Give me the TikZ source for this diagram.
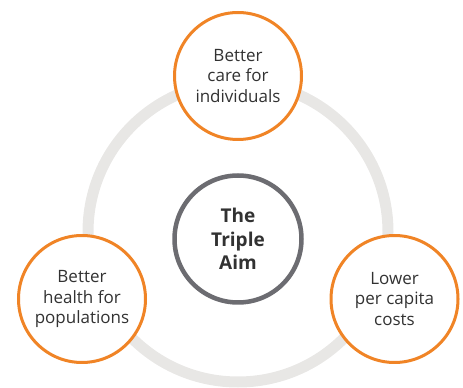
\documentclass[tikz,border=0pt]{standalone}
\usepackage{fontspec}
\setmainfont{Open Sans}
\usepackage{tikz}

\definecolor{aimorange}{RGB}{240,132,38}
\definecolor{ringgray}{RGB}{232,231,229}
\definecolor{hubgray}{RGB}{108,108,113}
\definecolor{textgray}{RGB}{50,50,50}

\begin{document}
\begin{tikzpicture}[x=1pt,y=1pt,
  aim/.style={circle,draw=aimorange,line width=3pt,fill=white,minimum size=127pt,
    inner sep=0pt,align=center,text=textgray,font={\fontsize{17}{20.8}\selectfont}},
  hub/.style={circle,draw=hubgray,line width=4.5pt,fill=white,minimum size=127pt,
    inner sep=0pt,align=center,text=textgray,font={\bfseries\fontsize{19}{23.3}\selectfont}}]
\useasboundingbox (0,0) rectangle (463,388);

% Grey ring behind the three aims
\draw[ringgray,line width=11pt] (238,156) circle (150);

% Centre
\node[hub] (triple) at (238,149) {The\\Triple\\Aim};

% The three aims
\node[aim] (care) at (238,312) {Better\\care for\\individuals};
\node[aim] (health) at (82,89) {Better\\health for\\populations};
\node[aim] (cost) at (394.5,89) {Lower\\per capita\\costs};

\end{tikzpicture}
\end{document}
